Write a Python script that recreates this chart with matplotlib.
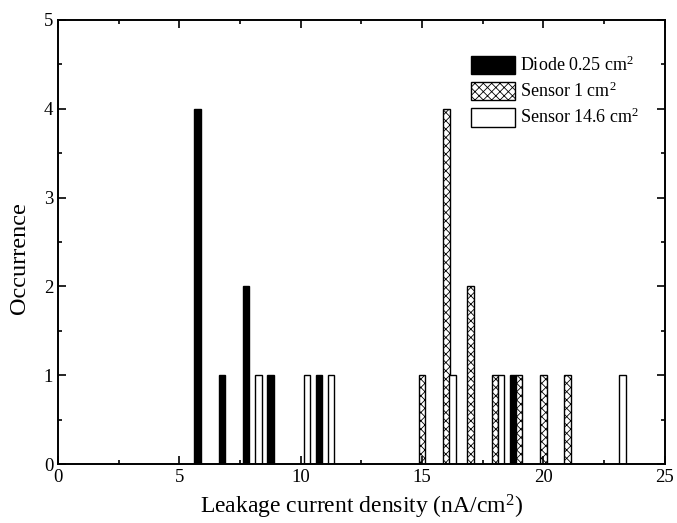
import matplotlib.pyplot as plt
from matplotlib.ticker import MultipleLocator

plt.rcParams['font.family'] = ['Liberation Serif', 'DejaVu Serif']
plt.rcParams['mathtext.fontset'] = 'custom'
plt.rcParams['mathtext.rm'] = 'Liberation Serif'
plt.rcParams['mathtext.default'] = 'regular'
plt.rcParams['hatch.linewidth'] = 0.6

# =============================
# Data (histogram bins)
# =============================
diode_x = [5.75, 6.75, 7.75, 8.75, 10.75, 18.75]
diode_n = [4, 1, 2, 1, 1, 1]

sensor1_x = [15, 16, 17, 18, 19, 20, 21]
sensor1_n = [1, 4, 2, 1, 1, 1, 1]

sensor146_x = [8.25, 10.25, 11.25, 16.25, 18.25, 23.25]
sensor146_n = [1, 1, 1, 1, 1, 1]

labels = ["Diode 0.25 cm$^2$", "Sensor 1 cm$^2$", "Sensor 14.6 cm$^2$"]

# =============================
# Plot
# =============================
fig = plt.figure(figsize=(6.77, 5.23), dpi=100)
ax = fig.add_axes([0.0857, 0.1128, 0.8963, 0.849])

w = 0.27
ax.bar(diode_x, diode_n, width=w, color='black', edgecolor='black', linewidth=1, label=labels[0])
ax.bar(sensor1_x, sensor1_n, width=w, color='white', edgecolor='black', hatch='xxxx', linewidth=1, label=labels[1])
ax.bar(sensor146_x, sensor146_n, width=w, color='white', edgecolor='black', linewidth=1, label=labels[2])

ax.set_xlim(0, 25)
ax.set_ylim(0, 5)
ax.xaxis.set_major_locator(MultipleLocator(5))
ax.xaxis.set_minor_locator(MultipleLocator(2.5))
ax.yaxis.set_major_locator(MultipleLocator(1))
ax.yaxis.set_minor_locator(MultipleLocator(0.5))
ax.tick_params(which='both', direction='in', top=True, right=True, labelsize=13.5, width=1.2)
ax.tick_params(which='major', length=6)
ax.tick_params(which='minor', length=3)
for s in ax.spines.values():
    s.set_linewidth(1.4)

ax.set_xlabel("Leakage current density (nA/cm$^2$)", fontsize=17, labelpad=5)
ax.set_ylabel("Occurrence", fontsize=17.5)
ax.yaxis.set_label_coords(-0.046, 0.464)

ax.legend(loc='upper left', bbox_to_anchor=(0.681, 0.92), frameon=False, fontsize=13,
          borderpad=0, borderaxespad=0, handlelength=2.4, handleheight=1.2,
          labelspacing=0.38, handletextpad=0.3)

plt.savefig("out.png")
plt.close()
